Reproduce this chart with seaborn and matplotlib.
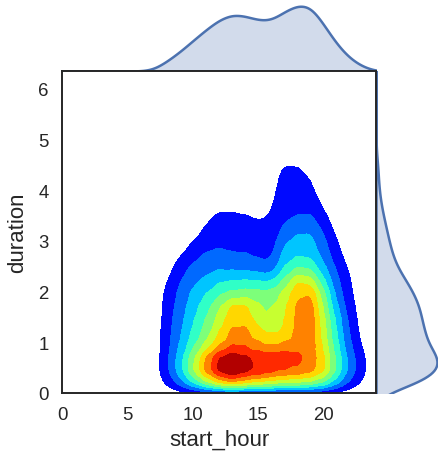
import matplotlib
matplotlib.use("Agg")
import matplotlib.pyplot as plt
from matplotlib.colors import ListedColormap, BoundaryNorm
import numpy as np
import pandas as pd
import seaborn as sns
from seaborn._statistics import KDE

# Trip counts binned by start hour (columns) and trip duration in hours (rows)
start_hours = list(range(7, 24))
durations = [0.2, 0.45, 0.7, 0.95, 1.2, 1.45, 1.7, 1.95, 2.2, 2.45,
             2.7, 2.95, 3.2, 3.45, 3.7, 3.95, 4.2, 4.45, 4.7]
trips = [
    # 7  8   9  10  11  12   13  14  15  16  17  18  19  20  21  22  23
    [2, 10, 21, 36, 51, 64, 72, 65, 62, 59, 56, 55, 52, 45, 30, 16, 7],
    [3, 15, 31, 52, 73, 91, 100, 91, 87, 82, 78, 77, 74, 64, 42, 23, 11],
    [3, 15, 30, 49, 70, 88, 93, 88, 86, 85, 86, 80, 75, 62, 41, 22, 10],
    [2, 14, 26, 40, 53, 66, 76, 75, 70, 66, 70, 73, 75, 58, 37, 18, 7],
    [2, 14, 24, 36, 47, 60, 71, 72, 63, 58, 61, 72, 76, 56, 34, 16, 5],
    [1, 13, 23, 33, 43, 55, 67, 67, 56, 52, 59, 72, 76, 54, 32, 14, 4],
    [1, 12, 21, 31, 40, 50, 64, 63, 52, 50, 58, 71, 75, 50, 27, 12, 3],
    [1, 11, 19, 28, 34, 42, 46, 48, 47, 47, 55, 68, 71, 46, 22, 10, 2],
    [0, 8, 17, 24, 28, 34, 35, 36, 35, 34, 45, 62, 58, 36, 19, 9, 1],
    [0, 5, 13, 20, 23, 25, 24, 24, 22, 20, 36, 44, 42, 28, 16, 7, 1],
    [0, 2, 8, 14, 19, 20, 18, 18, 16, 15, 30, 34, 33, 23, 12, 4, 0],
    [0, 1, 4, 9, 14, 16, 15, 15, 13, 13, 26, 29, 29, 20, 9, 2, 0],
    [0, 0, 1, 5, 10, 13, 13, 12, 11, 11, 20, 25, 26, 16, 6, 1, 0],
    [0, 0, 0, 2, 7, 11, 11, 10, 8, 9, 16, 18, 19, 11, 3, 0, 0],
    [0, 0, 0, 1, 4, 6, 6, 5, 4, 8, 13, 14, 15, 7, 1, 0, 0],
    [0, 0, 0, 0, 1, 2, 2, 2, 2, 7, 12, 12, 11, 4, 0, 0, 0],
    [0, 0, 0, 0, 0, 0, 0, 0, 0, 6, 11, 11, 9, 2, 0, 0, 0],
    [0, 0, 0, 0, 0, 0, 0, 0, 0, 4, 10, 9.5, 6, 1, 0, 0, 0],
    [0, 0, 0, 0, 0, 0, 0, 0, 0, 1, 3, 3, 2, 0, 0, 0, 0],
]

# A handful of rare night-time and very long trips
rare_hours = [1, 3, 5, 6, 16, 18]
rare_durations = [0.5, 0.4, 0.6, 0.5, 5.6, 6.1]
rare_trips = [0.2, 0.2, 0.3, 0.6, 0.3, 0.2]

records = [
    (h, d, c)
    for d, row in zip(durations, trips)
    for h, c in zip(start_hours, row)
    if c > 0
]
records += list(zip(rare_hours, rare_durations, rare_trips))
df = pd.DataFrame(records, columns=["start_hour", "duration", "trips"])

sns.set_theme(style="white")
plt.rcParams["font.family"] = ["Liberation Sans", "DejaVu Sans"]

g = sns.JointGrid(data=df, x="start_hour", y="duration", height=4.64,
                  ratio=5, space=0, xlim=(0, 24), ylim=(0, 6.35))
fig = g.figure
fig.set_size_inches(4.38, 4.64)

# Eleven evenly spaced density levels (the lowest band left unfilled),
# expressed as the iso-proportions that kdeplot expects
joint_bw = 0.15
grid_n = 250
density, _ = KDE(bw_method=joint_bw, gridsize=grid_n)(
    df["start_hour"], df["duration"], weights=df["trips"])
ranked = np.sort(density.ravel())[::-1]
cum_mass = np.cumsum(ranked) / ranked.sum()
n_bands = 11
iso_levels = []
for k in range(1, n_bands):
    j = np.searchsorted(-ranked, -k / n_bands * ranked[0], side="right") - 1
    iso_levels.append(float(1 - cum_mass[j]))
iso_levels.append(1.0)

jet = plt.get_cmap("jet")
band_cmap = ListedColormap([jet((k + 0.5) / n_bands) for k in range(1, n_bands)])
sns.kdeplot(data=df, x="start_hour", y="duration", weights="trips",
            fill=True, levels=iso_levels, cmap=band_cmap,
            bw_method=joint_bw, gridsize=grid_n, ax=g.ax_joint)
cset = g.ax_joint.collections[-1]
cset.set_norm(BoundaryNorm(cset.levels, band_cmap.N))

# Marginal densities
line_color = "#4c72b0"
sns.kdeplot(data=df, x="start_hour", weights="trips", fill=True,
            bw_method=0.2, color=line_color, linewidth=1.8, ax=g.ax_marg_x)
sns.kdeplot(data=df, y="duration", weights="trips", fill=True,
            bw_method=0.2, color=line_color, linewidth=1.8, ax=g.ax_marg_y)

# Layout in figure coordinates
W, H = 438, 464
g.ax_joint.set_position([62 / W, (H - 394) / H, 314 / W, 322 / H])
g.ax_marg_x.set_position([62 / W, (H - 72) / H, 314 / W, 68 / H])
g.ax_marg_y.set_position([376 / W, (H - 394) / H, 64 / W, 322 / H])
g.ax_joint.set_zorder(3)

ax = g.ax_joint
for side in ["top", "right", "bottom", "left"]:
    ax.spines[side].set_visible(True)
    ax.spines[side].set_color("#262626")
    ax.spines[side].set_linewidth(1.4)
ax.set_xticks([0, 5, 10, 15, 20])
ax.set_yticks([0, 1, 2, 3, 4, 5, 6])
ax.tick_params(axis="both", length=0, pad=9.5, labelsize=13.4, colors="#262626")
ax.set_xlabel("start_hour", fontsize=16, labelpad=4, color="#262626")
ax.set_ylabel("duration", fontsize=16, labelpad=7, color="#262626")

for marg in (g.ax_marg_x, g.ax_marg_y):
    for side in marg.spines:
        marg.spines[side].set_visible(False)

fig.savefig("out.png", dpi=100)
